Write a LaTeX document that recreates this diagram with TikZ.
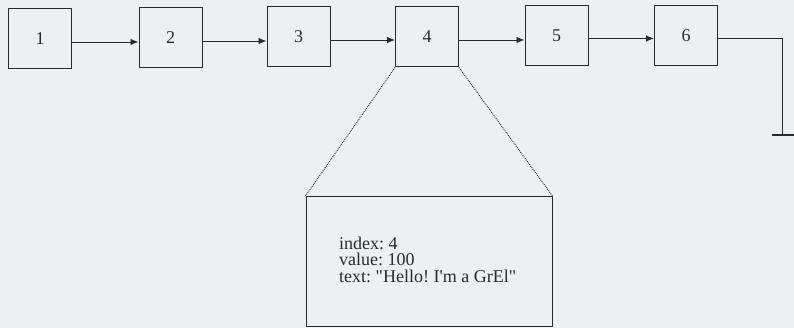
\documentclass[tikz,border=0pt]{standalone}
\usepackage{fontspec}
\setmainfont{Liberation Serif}
\newfontfamily\plaintxt{Liberation Serif}[Ligatures=TeXOff]
\usetikzlibrary{arrows.meta}
\definecolor{bg}{RGB}{237,240,240}
\definecolor{ink}{RGB}{40,44,44}
\begin{document}
\begin{tikzpicture}[x=1pt,y=-1pt,
  box/.style={draw=ink,line width=1pt,minimum width=63pt,minimum height=60pt,inner sep=0pt,font=\fontsize{18}{20}\selectfont,text=ink},
  link/.style={draw=ink,line width=0.9pt,-{Latex[length=8pt,width=6.5pt]}},
  zoomline/.style={draw=ink,line width=0.9pt,densely dotted}]
\fill[bg] (0,0) rectangle (794,328);
\useasboundingbox (0,0) rectangle (794,328);
\node[box] (b1) at (40,39) {1};
\node[box] (b2) at (170.5,38) {2};
\node[box] (b3) at (298.5,37) {3};
\node[box] (b4) at (427,37) {4};
\node[box] (b5) at (556.5,35.5) {5};
\node[box] (b6) at (686,35.5) {6};
\draw[link] ([yshift=-3pt]b1.east) -- ([yshift=-3pt]b1.east -| b2.west);
\draw[link] ([yshift=-3pt]b2.east) -- ([yshift=-3pt]b2.east -| b3.west);
\draw[link] ([yshift=-3pt]b3.east) -- ([yshift=-3pt]b3.east -| b4.west);
\draw[link] ([yshift=-3pt]b4.east) -- ([yshift=-3pt]b4.east -| b5.west);
\draw[link] ([yshift=-3pt]b5.east) -- ([yshift=-3pt]b5.east -| b6.west);
\coordinate (c1) at (782,38);
\coordinate (g) at (782,135);
\coordinate (gl) at (772,135);
\coordinate (gr) at (794,135);
\draw[ink,line width=0.9pt] ([yshift=-2.5pt]b6.east) -- (c1) -- (g);
\draw[ink,line width=2pt] (gl) -- (gr);
\node[draw=ink,line width=1pt,minimum width=246pt,minimum height=130pt,inner sep=0pt] (det) at (429,261.5) {};
\node[anchor=west,align=left,inner sep=0pt,text=ink,font=\plaintxt\fontsize{18}{16.5}\selectfont] (txt) at (339,259.5) {\frenchspacing index: 4\\\frenchspacing value: 100\\\frenchspacing text: "Hello! I'm a GrEl"};
\draw[zoomline] (b4.south west) -- (det.north west);
\draw[zoomline] (b4.south east) -- (det.north east);
\end{tikzpicture}
\end{document}
